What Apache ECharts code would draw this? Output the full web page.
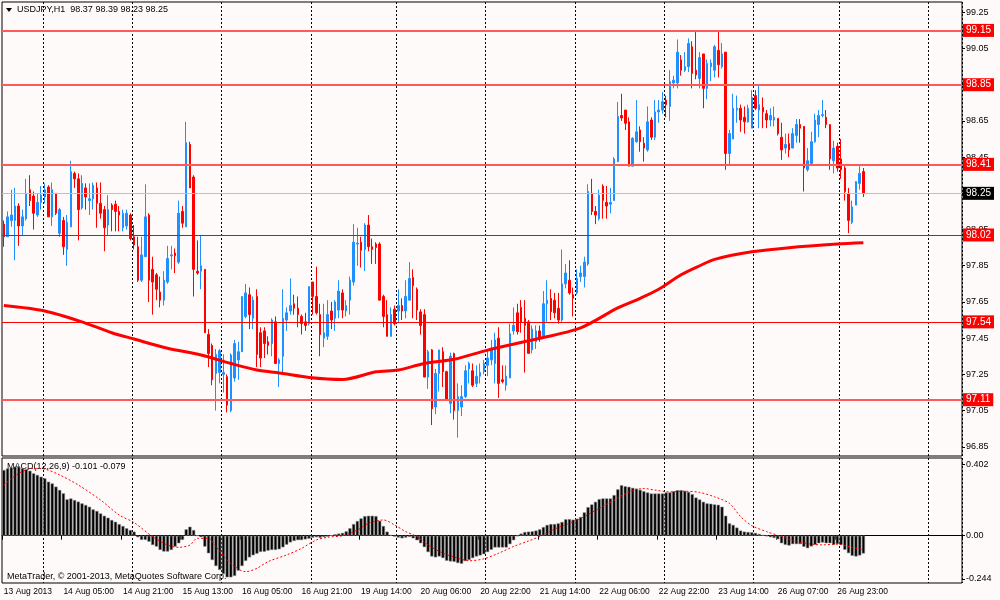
<!DOCTYPE html>
<html><head><meta charset="utf-8">
<script src="https://cdn.jsdelivr.net/npm/echarts@6/dist/echarts.min.js"></script>
<style>html,body{margin:0;padding:0;background:#fffafa}#c{width:1000px;height:600px}</style>
</head><body><div id="c"></div>
<script>
const symbolTitle = 'USDJPY,H1  98.37 98.39 98.23 98.25';
const macdTitle = 'MACD(12,26,9) -0.101 -0.079';
const copyright = 'MetaTrader, \u00A9 2001-2013, MetaQuotes Software Corp.';

const openP = [
98.08,98.01,98.10,98.10,98.18,98.07,98.11,98.27,98.235,98.13,
98.20,98.23,98.285,98.12,98.25,98.03,98.10,97.94,98.065,98.36,
98.33,98.17,98.28,98.21,98.22,98.28,98.195,98.16,98.075,98.185,
98.19,98.15,98.06,98.07,98.13,98.01,97.955,97.77,97.90,98.13,
97.83,97.80,97.705,97.66,97.76,97.905,97.92,97.87,98.15,98.065,
98.52,98.34,97.82,97.82,97.83,97.47,97.41,97.255,97.26,97.25,
97.237,97.05,97.23,97.33,97.375,97.57,97.69,97.56,97.68,97.48,
97.49,97.43,97.42,97.54,97.31,97.35,97.55,97.60,97.64,97.615,
97.57,97.54,97.53,97.76,97.68,97.58,97.45,97.46,97.60,97.56,
97.605,97.70,97.60,97.66,97.76,97.97,97.98,97.94,98.075,97.955,
97.97,97.97,97.68,97.58,97.46,97.61,97.60,97.63,97.60,97.66,
97.785,97.72,97.595,97.58,97.235,97.385,97.07,97.255,97.375,97.265,
97.09,97.365,97.05,97.07,97.127,97.28,97.27,97.20,97.24,97.265,
97.30,97.33,97.31,97.45,97.22,97.19,97.23,97.49,97.59,97.62,
97.56,97.54,97.385,97.43,97.49,97.458,97.64,97.67,97.66,97.615,
97.55,97.75,97.77,97.69,97.70,97.79,97.79,97.86,98.25,98.15,
98.11,98.29,98.20,98.19,98.21,98.425,98.68,98.71,98.645,98.40,
98.535,98.60,98.527,98.49,98.655,98.56,98.70,98.71,98.765,98.73,
98.86,98.86,98.987,98.93,98.95,99.06,98.93,98.885,99.02,98.83,
98.95,98.93,99.04,98.95,99.03,98.47,98.55,98.71,98.72,98.67,
98.645,98.61,98.79,98.71,98.725,98.69,98.655,98.655,98.664,98.56,
98.50,98.525,98.50,98.57,98.63,98.62,98.38,98.415,98.535,98.63,
98.68,98.67,98.63,98.43,98.51,98.44,98.39,98.25,98.09,98.185,
98.305,98.37];
const highP = [
98.10,98.15,98.27,98.28,98.195,98.16,98.33,98.35,98.26,98.25,
98.29,98.305,98.295,98.31,98.25,98.17,98.12,98.13,98.43,98.37,
98.36,98.35,98.305,98.305,98.31,98.31,98.31,98.18,98.24,98.195,
98.21,98.18,98.16,98.16,98.14,98.075,98.01,98.01,98.30,98.14,
97.90,97.81,97.79,97.82,97.96,97.96,97.945,98.21,98.18,98.645,
98.535,98.35,97.99,98.02,97.83,97.50,97.42,97.39,97.39,97.36,
97.25,97.366,97.44,97.43,97.68,97.75,97.73,97.68,97.72,97.51,
97.51,97.46,97.56,97.57,97.34,97.72,97.62,97.78,97.69,97.68,
97.58,97.59,97.735,97.76,97.845,97.64,97.64,97.66,97.65,97.66,
97.77,97.72,97.66,97.79,98.08,98.06,98.01,98.085,98.13,98.00,
97.98,97.98,97.69,97.66,97.62,97.63,97.72,97.67,97.77,97.87,
97.83,97.73,97.61,97.61,97.385,97.39,97.28,97.385,97.40,97.27,
97.37,97.37,97.20,97.19,97.30,97.32,97.31,97.30,97.31,97.33,
97.38,97.44,97.48,97.51,97.30,97.30,97.53,97.62,97.64,97.66,
97.66,97.55,97.52,97.52,97.52,97.71,97.77,97.72,97.70,97.70,
97.94,97.86,97.88,97.73,97.83,97.85,97.90,98.30,98.33,98.18,
98.27,98.30,98.29,98.28,98.45,98.755,98.80,98.71,98.67,98.56,
98.765,98.62,98.56,98.73,98.67,98.765,98.765,98.81,98.79,98.93,
98.90,99.10,99.014,99.03,99.106,99.09,99.143,99.03,99.02,98.99,
98.99,99.07,99.15,99.08,99.03,98.60,98.80,98.79,98.74,98.73,
98.74,98.82,98.82,98.85,98.78,98.71,98.72,98.73,98.664,98.64,
98.58,98.58,98.61,98.66,98.66,98.62,98.50,98.59,98.69,98.71,
98.765,98.71,98.63,98.54,98.53,98.55,98.40,98.28,98.21,98.315,
98.40,98.39];
const lowP = [
97.955,98.01,98.065,97.88,97.96,98.02,98.10,98.18,98.05,98.12,
98.16,98.195,98.12,98.07,98.13,98.01,97.91,97.85,98.065,98.28,
97.99,98.16,98.16,98.13,98.16,98.06,98.11,97.93,98.02,98.04,
98.04,98.04,98.04,98.05,97.99,97.94,97.76,97.76,97.90,97.65,
97.58,97.66,97.62,97.63,97.75,97.83,97.81,97.86,98.06,98.065,
98.28,97.68,97.80,97.72,97.48,97.29,97.19,97.05,97.20,97.15,
97.04,97.04,97.21,97.22,97.375,97.56,97.50,97.50,97.29,97.29,
97.34,97.36,97.35,97.31,97.18,97.25,97.49,97.58,97.58,97.51,
97.47,97.49,97.52,97.58,97.58,97.35,97.40,97.44,97.50,97.49,
97.56,97.56,97.57,97.58,97.74,97.85,97.84,97.82,97.93,97.86,
97.86,97.66,97.51,97.46,97.46,97.52,97.54,97.55,97.56,97.66,
97.56,97.55,97.47,97.235,97.17,96.97,97.03,97.155,97.18,97.11,
97.035,97.00,96.90,97.02,97.12,97.20,97.18,97.18,97.20,97.25,
97.24,97.30,97.20,97.12,97.20,97.16,97.23,97.47,97.47,97.48,
97.26,97.366,97.366,97.39,97.43,97.45,97.54,97.55,97.56,97.53,
97.54,97.725,97.69,97.57,97.69,97.76,97.73,97.85,98.13,98.08,
98.10,98.11,98.11,98.14,98.21,98.425,98.65,98.60,98.40,98.40,
98.53,98.48,98.425,98.48,98.545,98.545,98.64,98.69,98.67,98.65,
98.83,98.83,98.90,98.92,98.92,98.83,98.88,98.83,98.72,98.77,
98.87,98.89,98.89,98.94,98.38,98.41,98.55,98.64,98.59,98.58,
98.64,98.61,98.71,98.61,98.61,98.61,98.62,98.62,98.57,98.435,
98.47,98.45,98.50,98.53,98.53,98.26,98.37,98.41,98.53,98.56,
98.67,98.61,98.38,98.36,98.37,98.33,98.21,98.03,98.08,98.185,
98.27,98.23];
const closeP = [
98.01,98.12,98.13,98.18,98.07,98.12,98.25,98.21,98.14,98.20,
98.24,98.27,98.12,98.27,98.14,98.16,97.955,98.09,98.37,98.33,
98.16,98.305,98.23,98.22,98.295,98.195,98.14,98.06,98.16,98.16,
98.15,98.13,98.14,98.14,98.00,97.965,97.77,97.91,98.12,97.77,
97.76,97.72,97.66,97.77,97.89,97.91,97.905,98.14,98.085,98.53,
98.28,97.83,97.81,97.85,97.48,97.365,97.22,97.36,97.38,97.26,
97.08,97.357,97.42,97.375,97.68,97.70,97.58,97.66,97.36,97.34,
97.42,97.41,97.55,97.31,97.33,97.56,97.59,97.63,97.615,97.58,
97.53,97.52,97.735,97.68,97.59,97.47,97.48,97.58,97.55,97.65,
97.71,97.605,97.63,97.77,97.98,97.975,97.935,98.075,97.955,97.94,
97.95,97.66,97.57,97.46,97.58,97.53,97.63,97.60,97.68,97.78,
97.74,97.605,97.52,97.235,97.375,97.06,97.255,97.385,97.265,97.11,
97.35,97.05,97.127,97.127,97.27,97.31,97.19,97.24,97.26,97.31,
97.34,97.385,97.44,97.20,97.21,97.24,97.475,97.52,97.486,97.54,
97.52,97.366,97.50,97.49,97.45,97.64,97.66,97.596,97.59,97.55,
97.75,97.81,97.70,97.67,97.78,97.81,97.87,98.26,98.15,98.13,
98.24,98.21,98.18,98.20,98.44,98.675,98.666,98.637,98.40,98.554,
98.59,98.535,98.50,98.645,98.56,98.70,98.71,98.756,98.74,98.867,
98.875,99.03,98.93,98.95,99.078,98.913,98.904,99.00,98.83,98.967,
98.97,99.06,98.96,99.02,98.47,98.58,98.72,98.72,98.655,98.645,
98.72,98.78,98.72,98.74,98.70,98.655,98.68,98.67,98.58,98.49,
98.52,98.49,98.58,98.63,98.61,98.39,98.43,98.535,98.655,98.68,
98.685,98.63,98.44,98.50,98.39,98.38,98.26,98.10,98.175,98.315,
98.36,98.25];

const maIdx = [0,11,21,29,35,44,53,61,68,75,82,91,100,106,113,121,130,142,155,165,171,176,182,187,191,201,211,224,231];
const maVal = [97.63,97.60,97.54,97.48,97.445,97.394,97.357,97.31,97.274,97.255,97.233,97.222,97.264,97.274,97.31,97.333,97.384,97.44,97.507,97.617,97.67,97.72,97.80,97.85,97.885,97.927,97.95,97.97,97.977];

const macdHist = [
0.372,0.381,0.387,0.391,0.391,0.381,0.376,0.368,0.353,0.344,
0.334,0.325,0.306,0.296,0.278,0.259,0.240,0.206,0.211,0.202,
0.193,0.183,0.174,0.164,0.149,0.140,0.126,0.113,0.102,0.089,
0.079,0.066,0.055,0.042,0.032,0.023,-0.009,-0.024,-0.024,-0.034,
-0.053,-0.062,-0.081,-0.090,-0.090,-0.081,-0.062,-0.043,-0.024,0.036,
0.051,0.032,0.0,-0.009,-0.062,-0.100,-0.138,-0.172,-0.194,-0.217,
-0.236,-0.236,-0.228,-0.198,-0.172,-0.143,-0.123,-0.111,-0.102,-0.092,
-0.091,-0.085,-0.081,-0.081,-0.077,-0.066,-0.051,-0.038,-0.030,-0.025,
-0.025,-0.021,-0.017,-0.011,-0.009,-0.012,-0.008,-0.005,0.002,0.008,
0.012,0.016,0.025,0.042,0.066,0.083,0.098,0.111,0.113,0.113,
0.111,0.085,0.055,0.023,0.004,-0.005,-0.011,-0.015,-0.011,-0.007,
-0.015,-0.026,-0.043,-0.065,-0.093,-0.118,-0.123,-0.118,-0.127,-0.142,
-0.146,-0.148,-0.155,-0.159,-0.144,-0.138,-0.127,-0.118,-0.112,-0.105,
-0.093,-0.080,-0.067,-0.067,-0.067,-0.067,-0.048,-0.026,-0.003,0.012,
0.021,0.023,0.025,0.029,0.036,0.049,0.061,0.066,0.066,0.070,
0.078,0.093,0.094,0.091,0.096,0.106,0.132,0.162,0.177,0.192,
0.207,0.211,0.211,0.211,0.230,0.263,0.286,0.280,0.277,0.271,
0.267,0.260,0.252,0.245,0.239,0.239,0.239,0.239,0.245,0.245,
0.252,0.258,0.258,0.254,0.248,0.235,0.216,0.205,0.192,0.183,
0.181,0.177,0.175,0.164,0.113,0.070,0.061,0.046,0.029,0.023,
0.021,0.019,0.016,0.010,0.004,-0.003,-0.009,-0.013,-0.020,-0.043,
-0.052,-0.056,-0.048,-0.048,-0.048,-0.063,-0.071,-0.061,-0.052,-0.043,
-0.039,-0.043,-0.043,-0.052,-0.048,-0.052,-0.080,-0.099,-0.114,-0.118,
-0.112,-0.101];

const sigIdx = [0,4,8,11,15,20,26,31,35,40,44,47,50,52,55,57,61,65,68,71,76,80,84,87,91,95,98,102,105,108,111,114,118,122,125,129,133,137,141,145,148,152,156,160,164,168,172,175,179,183,187,191,195,198,201,205,209,213,217,220,224,228,231];
const sigVal = [0.287,0.353,0.381,0.377,0.344,0.287,0.202,0.117,0.074,-0.006,-0.053,-0.066,-0.053,-0.015,-0.015,-0.062,-0.157,-0.204,-0.185,-0.147,-0.109,-0.072,-0.024,-0.009,0.0,0.032,0.07,0.089,0.061,0.023,-0.005,-0.052,-0.099,-0.127,-0.142,-0.131,-0.099,-0.061,-0.030,0.004,0.038,0.070,0.108,0.155,0.201,0.248,0.267,0.258,0.248,0.252,0.245,0.220,0.183,0.108,0.057,0.023,-0.005,-0.033,-0.048,-0.052,-0.048,-0.067,-0.079];

const levels = [99.15, 98.85, 98.41, 98.02, 97.54, 97.11];
const bidLevel = 98.25;
const priceTicks = [96.85,97.05,97.25,97.45,97.65,97.85,98.05,98.25,98.45,98.65,98.85,99.05,99.25];
const macdTicks = [-0.244, 0, 0.402];
const macdTickLabels = ['-0.244', '0.00', '0.402'];
const timeTickIdx = [0,16,32,48,64,80,96,112,128,144,160,176,192,208,224];
const timeTickLabels = ['13 Aug 2013','14 Aug 05:00','14 Aug 21:00','15 Aug 13:00','16 Aug 05:00','16 Aug 21:00','19 Aug 14:00','20 Aug 06:00','20 Aug 22:00','21 Aug 14:00','22 Aug 06:00','22 Aug 22:00','23 Aug 14:00','26 Aug 07:00','26 Aug 23:00'];
const dayIdx = [11,35,59,83,106,130,154,178,202,225,249];

// ---- build ----
const FONT = 'Liberation Sans';
const BG = '#fffafa';
const N = openP.length;
const nSlots = 258;
const cats = Array.from({length: nSlots}, (_, i) => String(i));
const ohlc = openP.map((o, i) => [o, closeP[i], lowP[i], highP[i]]);
const maLine = new Array(N).fill(null); maIdx.forEach((k, j) => { maLine[k] = maVal[j]; });
const sigLine = new Array(N).fill(null); sigIdx.forEach((k, j) => { sigLine[k] = sigVal[j]; });
const daySet = new Set(dayIdx);
const tickMap = {}; timeTickIdx.forEach((k, j) => { tickMap[k] = timeTickLabels[j]; });
const lineLook = [
  {c: '#ff5a5a', w: 2}, {c: '#ff5a5a', w: 2}, {c: '#ff5a5a', w: 2},
  {c: '#ff0000', w: 1}, {c: '#ff0000', w: 1}, {c: '#ff5a5a', w: 2}
];
const dayLine = {show: true, interval: (i) => daySet.has(i), lineStyle: {color: '#000', type: [2, 2], width: 1}};

const chart = echarts.init(document.getElementById('c'));
chart.setOption({
  animation: false,
  backgroundColor: BG,
  textStyle: {fontFamily: FONT},
  grid: [
    {left: 2, width: 960, top: 2, height: 454, show: true, borderColor: '#000', borderWidth: 1, backgroundColor: BG},
    {left: 2, width: 960, top: 458, height: 125, show: true, borderColor: '#000', borderWidth: 1, backgroundColor: BG}
  ],
  xAxis: [
    {type: 'category', gridIndex: 0, data: cats, boundaryGap: true,
     axisLine: {show: false}, axisTick: {show: false}, axisLabel: {show: false}, splitLine: dayLine},
    {type: 'category', gridIndex: 1, data: cats, boundaryGap: true,
     axisLine: {show: true, lineStyle: {color: '#000', width: 1}},
     axisTick: {show: true, interval: (i) => tickMap[i] !== undefined, length: 4, lineStyle: {color: '#000'}},
     axisLabel: {show: true, interval: (i) => tickMap[i] !== undefined, formatter: (v, i) => tickMap[i] || '',
                 align: 'left', margin: 4, color: '#000', fontSize: 8.5, fontFamily: FONT},
     splitLine: dayLine}
  ],
  yAxis: [
    {type: 'value', gridIndex: 0, position: 'right', min: 96.799, max: 99.307, scale: true,
     axisLine: {show: false}, splitLine: {show: false},
     axisTick: {show: true, customValues: priceTicks, length: 3, lineStyle: {color: '#000'}},
     axisLabel: {show: true, customValues: priceTicks, formatter: (v) => v.toFixed(2), margin: 4,
                 color: '#000', fontSize: 9, fontFamily: FONT}},
    {type: 'value', gridIndex: 1, position: 'right', min: -0.268, max: 0.44,
     axisLine: {show: false}, splitLine: {show: false},
     axisTick: {show: true, customValues: macdTicks, length: 3, lineStyle: {color: '#000'}},
     axisLabel: {show: true, customValues: macdTicks,
                 formatter: (v) => macdTickLabels[macdTicks.findIndex(t => Math.abs(t - v) < 1e-6)] || '',
                 margin: 4, color: '#000', fontSize: 9, fontFamily: FONT}}
  ],
  graphic: [
    {type: 'polygon', shape: {points: [[6, 8], [12, 8], [9, 12]]}, style: {fill: '#000'}, z: 1},
    {type: 'text', left: 17, top: 5, style: {text: symbolTitle, font: '9px "Liberation Sans"', fill: '#000'}, z: 1},
    {type: 'text', left: 7, top: 462, style: {text: macdTitle, font: '9px "Liberation Sans"', fill: '#000'}, z: 0},
    {type: 'text', left: 7, top: 572, style: {text: copyright, font: '9px "Liberation Sans"', fill: '#000'}, z: 0}
  ],
  series: [
    {type: 'candlestick', xAxisIndex: 0, yAxisIndex: 0, data: ohlc, barWidth: 2, z: 3,
     itemStyle: {color: '#1e90ff', color0: '#ff0000', borderColor: '#1e90ff', borderColor0: '#ff0000', borderWidth: 1},
     markLine: {
       symbol: ['none', 'none'], silent: true, animation: false, precision: 2,
       label: {show: true, position: 'end', distance: 1, color: '#fff', fontFamily: FONT, fontSize: 10,
               padding: [2, 3, 1, 3], formatter: (p) => Number(p.value).toFixed(2)},
       data: levels.map((v, j) => ({yAxis: v, lineStyle: {color: lineLook[j].c, width: lineLook[j].w, type: 'solid'},
                                     label: {backgroundColor: '#ff0000'}}))
             .concat([{yAxis: bidLevel, lineStyle: {color: '#c0c0c0', width: 1, type: 'solid'},
                       label: {backgroundColor: '#000'}}])
     }},
    {type: 'line', xAxisIndex: 0, yAxisIndex: 0, data: maLine, connectNulls: true, showSymbol: false, smooth: 0.3,
     lineStyle: {color: '#ff0000', width: 3}, z: 5},
    {type: 'bar', xAxisIndex: 1, yAxisIndex: 1, data: macdHist, barWidth: 3.2, z: 2,
     itemStyle: {color: '#000', borderColor: '#8a8a8a', borderWidth: 0.6}},
    {type: 'line', xAxisIndex: 1, yAxisIndex: 1, data: sigLine, connectNulls: true, showSymbol: false, smooth: 0.3,
     lineStyle: {color: '#ff0000', width: 1, type: [2, 2]}, z: 4}
  ]
});
</script></body></html>
